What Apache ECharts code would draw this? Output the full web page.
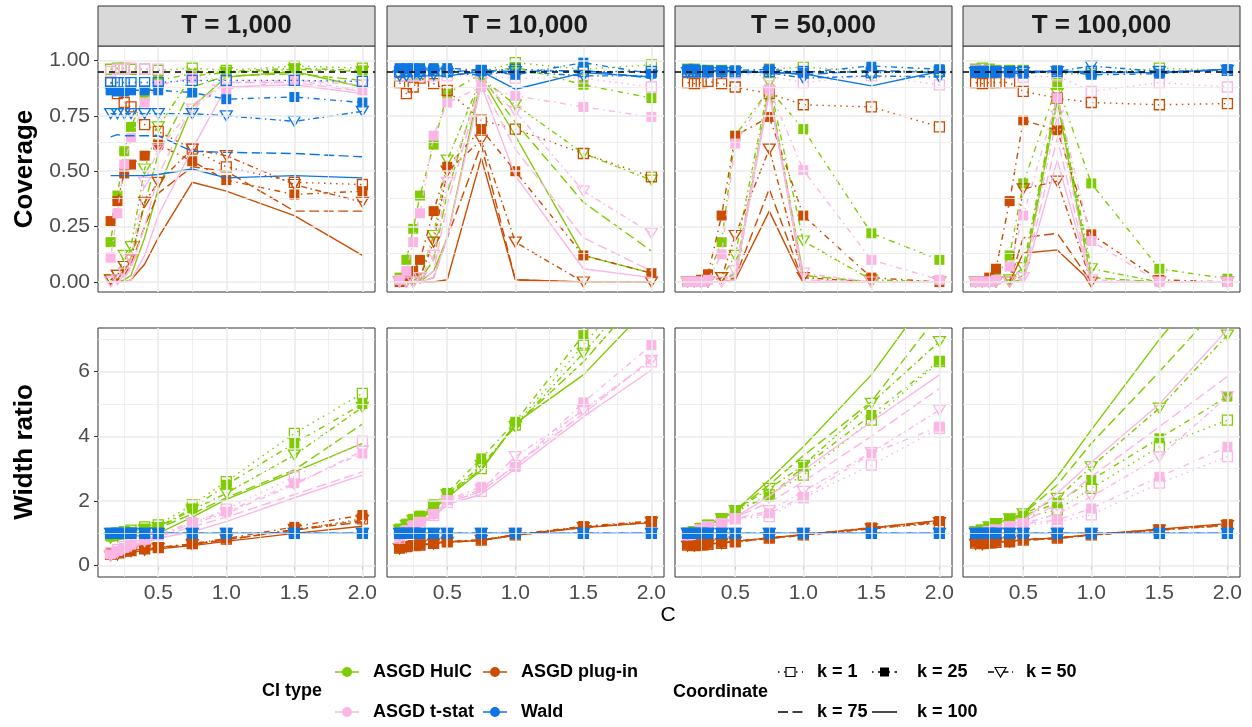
<!DOCTYPE html>
<html><head><meta charset="utf-8">
<script src="https://cdn.jsdelivr.net/npm/echarts@6/dist/echarts.min.js"></script>
<style>html,body{margin:0;padding:0;background:#fff}#c{width:1252px;height:727px}</style>
</head><body><div id="c"></div><script>
// ---------------- DATA ----------------
const C_values = [0.15, 0.2, 0.25, 0.3, 0.4, 0.5, 0.75, 1, 1.5, 2];
const T_labels = ['T = 1,000', 'T = 10,000', 'T = 50,000', 'T = 100,000'];
const ciTypes = ['ASGD HulC', 'ASGD plug-in', 'ASGD t-stat', 'Wald'];
const kLabels = ['k = 1', 'k = 25', 'k = 50', 'k = 75', 'k = 100'];
const covTicks = [0, 0.25, 0.5, 0.75, 1];
const widthTicks = [0, 2, 4, 6];
const xTicks = [0.5, 1, 1.5, 2];
const nominalLevel = 0.95;

// Coverage, rows = k=1, 25, 50, 75, 100 ; columns follow C_values
const cov_T1000_HulC = [
 [0.96,0.965,0.965,0.96,0.96,0.955,0.965,0.955,0.975,0.965],
 [0.18,0.39,0.59,0.70,0.84,0.91,0.94,0.95,0.965,0.955],
 [0.01,0.03,0.12,0.16,0.51,0.70,0.93,0.945,0.96,0.95],
 [0.00,0.01,0.05,0.11,0.35,0.58,0.88,0.93,0.94,0.91],
 [0.00,0.00,0.01,0.03,0.20,0.42,0.79,0.925,0.95,0.88]];
const cov_T1000_PlugIn = [
 [0.90,0.85,0.81,0.79,0.71,0.68,0.60,0.52,0.45,0.44],
 [0.275,0.365,0.49,0.53,0.57,0.62,0.545,0.46,0.395,0.41],
 [0.01,0.03,0.07,0.10,0.36,0.45,0.60,0.57,0.44,0.36],
 [0.00,0.01,0.03,0.08,0.25,0.40,0.52,0.50,0.32,0.32],
 [0.00,0.00,0.00,0.01,0.08,0.20,0.45,0.41,0.30,0.12]];
const cov_T1000_TStat = [
 [0.95,0.96,0.96,0.965,0.96,0.96,0.93,0.91,0.91,0.905],
 [0.11,0.31,0.53,0.65,0.81,0.89,0.92,0.87,0.91,0.865],
 [0.00,0.01,0.04,0.10,0.45,0.60,0.78,0.90,0.91,0.89],
 [0.00,0.00,0.02,0.06,0.25,0.48,0.80,0.90,0.90,0.86],
 [0.00,0.00,0.00,0.01,0.12,0.30,0.60,0.88,0.89,0.85]];
const cov_T1000_Wald = [
 [0.90,0.90,0.90,0.90,0.90,0.90,0.91,0.91,0.91,0.905],
 [0.865,0.86,0.86,0.865,0.865,0.865,0.855,0.825,0.835,0.81],
 [0.76,0.76,0.76,0.76,0.76,0.76,0.76,0.75,0.725,0.77],
 [0.655,0.665,0.66,0.66,0.66,0.66,0.59,0.585,0.58,0.565],
 [0.48,0.48,0.48,0.48,0.48,0.485,0.51,0.47,0.48,0.47]];

const cov_T10000_HulC = [
 [0.93,0.93,0.935,0.94,0.94,0.95,0.95,0.99,0.96,0.98],
 [0.02,0.10,0.24,0.39,0.62,0.85,0.94,0.97,0.89,0.83],
 [0.00,0.00,0.01,0.02,0.21,0.55,0.92,0.80,0.58,0.46],
 [0.00,0.00,0.00,0.01,0.10,0.40,0.93,0.72,0.36,0.14],
 [0.00,0.00,0.00,0.00,0.05,0.20,0.92,0.66,0.12,0.04]];
const cov_T10000_PlugIn = [
 [0.90,0.85,0.88,0.92,0.895,0.865,0.73,0.69,0.58,0.475],
 [0.00,0.02,0.05,0.10,0.32,0.52,0.69,0.50,0.12,0.04],
 [0.00,0.00,0.00,0.02,0.18,0.50,0.64,0.18,0.00,0.00],
 [0.00,0.00,0.00,0.00,0.02,0.20,0.62,0.01,0.00,0.00],
 [0.00,0.00,0.00,0.00,0.00,0.01,0.56,0.01,0.00,0.00]];
const cov_T10000_TStat = [
 [0.93,0.93,0.93,0.93,0.93,0.93,0.93,0.92,0.92,0.88],
 [0.01,0.05,0.18,0.31,0.66,0.81,0.88,0.84,0.79,0.745],
 [0.00,0.00,0.00,0.02,0.12,0.45,0.90,0.77,0.41,0.22],
 [0.00,0.00,0.00,0.00,0.05,0.35,0.90,0.60,0.20,0.05],
 [0.00,0.00,0.00,0.00,0.02,0.20,0.89,0.48,0.06,0.02]];
const cov_T10000_Wald = [
 [0.95,0.95,0.95,0.95,0.955,0.95,0.955,0.96,0.95,0.95],
 [0.965,0.965,0.965,0.965,0.965,0.965,0.955,0.935,0.99,0.94],
 [0.93,0.93,0.935,0.935,0.935,0.94,0.935,0.95,0.93,0.93],
 [0.94,0.94,0.94,0.94,0.94,0.95,0.955,0.95,0.955,0.92],
 [0.93,0.93,0.93,0.93,0.93,0.93,0.95,0.87,0.945,0.925]];

const cov_T50000_HulC = [
 [0.96,0.96,0.955,0.955,0.955,0.95,0.96,0.97,0.95,0.955],
 [0.00,0.00,0.01,0.03,0.18,0.66,0.87,0.69,0.22,0.10],
 [0.00,0.00,0.00,0.00,0.02,0.12,0.90,0.185,0.01,0.00],
 [0.00,0.00,0.00,0.00,0.00,0.04,0.88,0.03,0.00,0.00],
 [0.00,0.00,0.00,0.00,0.00,0.01,0.87,0.00,0.00,0.00]];
const cov_T50000_PlugIn = [
 [0.90,0.895,0.90,0.905,0.895,0.88,0.85,0.80,0.79,0.70],
 [0.00,0.00,0.01,0.035,0.30,0.66,0.745,0.30,0.02,0.00],
 [0.00,0.00,0.00,0.00,0.02,0.21,0.60,0.02,0.00,0.00],
 [0.00,0.00,0.00,0.00,0.00,0.02,0.42,0.00,0.00,0.00],
 [0.00,0.00,0.00,0.00,0.00,0.01,0.32,0.00,0.00,0.00]];
const cov_T50000_TStat = [
 [0.95,0.95,0.95,0.945,0.945,0.94,0.93,0.90,0.93,0.89],
 [0.00,0.00,0.00,0.01,0.125,0.625,0.87,0.505,0.10,0.01],
 [0.00,0.00,0.00,0.00,0.00,0.05,0.86,0.04,0.00,0.00],
 [0.00,0.00,0.00,0.00,0.00,0.03,0.86,0.01,0.00,0.00],
 [0.00,0.00,0.00,0.00,0.00,0.01,0.85,0.00,0.00,0.00]];
const cov_T50000_Wald = [
 [0.95,0.95,0.95,0.95,0.95,0.95,0.95,0.95,0.945,0.95],
 [0.96,0.96,0.955,0.955,0.955,0.955,0.96,0.945,0.975,0.96],
 [0.945,0.945,0.945,0.945,0.945,0.945,0.945,0.92,0.93,0.925],
 [0.95,0.95,0.95,0.95,0.95,0.95,0.95,0.935,0.955,0.945],
 [0.95,0.95,0.95,0.95,0.95,0.95,0.945,0.94,0.885,0.95]];

const cov_T100000_HulC = [
 [0.96,0.965,0.96,0.955,0.955,0.955,0.94,0.94,0.965,0.955],
 [0.00,0.00,0.00,0.02,0.12,0.445,0.89,0.445,0.06,0.015],
 [0.00,0.00,0.00,0.00,0.01,0.065,0.85,0.06,0.00,0.00],
 [0.00,0.00,0.00,0.00,0.00,0.03,0.85,0.02,0.00,0.00],
 [0.00,0.00,0.00,0.00,0.00,0.01,0.82,0.00,0.00,0.00]];
const cov_T100000_PlugIn = [
 [0.90,0.895,0.90,0.90,0.90,0.86,0.83,0.81,0.80,0.805],
 [0.00,0.00,0.02,0.06,0.365,0.73,0.685,0.215,0.01,0.00],
 [0.00,0.00,0.00,0.00,0.00,0.42,0.455,0.00,0.00,0.00],
 [0.00,0.00,0.00,0.00,0.00,0.20,0.22,0.00,0.00,0.00],
 [0.00,0.00,0.00,0.00,0.00,0.13,0.145,0.00,0.00,0.00]];
const cov_T100000_TStat = [
 [0.955,0.955,0.95,0.95,0.945,0.925,0.93,0.86,0.90,0.88],
 [0.00,0.00,0.00,0.01,0.07,0.30,0.83,0.185,0.00,0.00],
 [0.00,0.00,0.00,0.00,0.00,0.02,0.75,0.01,0.00,0.00],
 [0.00,0.00,0.00,0.00,0.00,0.01,0.65,0.00,0.00,0.00],
 [0.00,0.00,0.00,0.00,0.00,0.00,0.55,0.00,0.00,0.00]];
const cov_T100000_Wald = [
 [0.95,0.95,0.95,0.95,0.95,0.95,0.95,0.95,0.95,0.955],
 [0.945,0.945,0.945,0.945,0.945,0.94,0.955,0.935,0.94,0.96],
 [0.945,0.945,0.945,0.945,0.945,0.945,0.95,0.975,0.95,0.955],
 [0.95,0.95,0.95,0.95,0.95,0.95,0.95,0.95,0.945,0.96],
 [0.95,0.95,0.95,0.95,0.95,0.95,0.95,0.945,0.945,0.96]];

// Width ratio, rows = k=1, 25, 50, 75, 100
const wid_T1000_HulC = [
 [0.95,1.0,1.05,1.1,1.2,1.26,1.88,2.6,4.09,5.33],
 [0.9,0.95,1.0,1.05,1.15,1.2,1.77,2.5,3.78,5.0],
 [0.85,0.9,0.95,1.0,1.1,1.18,1.72,2.24,3.42,4.9],
 [0.8,0.85,0.9,0.95,1.05,1.15,1.6,2.1,2.96,4.38],
 [0.75,0.8,0.85,0.9,0.95,1.0,1.5,2.05,2.9,3.78]];
const wid_T1000_PlugIn = [
 [0.35,0.4,0.45,0.47,0.52,0.56,0.68,0.82,1.1,1.45],
 [0.4,0.42,0.45,0.48,0.52,0.56,0.68,0.84,1.2,1.57],
 [0.3,0.33,0.38,0.43,0.48,0.54,0.65,0.8,1.12,1.4],
 [0.33,0.36,0.4,0.45,0.5,0.55,0.66,0.8,1.1,1.35],
 [0.3,0.33,0.37,0.42,0.47,0.52,0.62,0.75,1.0,1.22]];
const wid_T1000_TStat = [
 [0.4,0.5,0.6,0.7,0.85,0.95,1.3,1.75,2.75,3.85],
 [0.35,0.45,0.55,0.65,0.8,0.95,1.36,1.67,2.55,3.47],
 [0.3,0.4,0.5,0.6,0.75,0.9,1.3,1.62,2.5,3.55],
 [0.3,0.4,0.5,0.6,0.75,0.9,1.2,1.5,2.2,2.9],
 [0.25,0.35,0.45,0.55,0.7,0.85,1.05,1.36,2.1,2.8]];
const wid_T1000_Wald = [
 [1,1,1,1,1,1,1,1,1,1],[1,1,1,1,1,1,1,1,1,1],[1,1,1,1,1,1,1,1,1,1],
 [1,1,1,1,1,1,1,1,1,1],[1,1,1,1,1,1,1,1,1,1]];

const wid_T10000_HulC = [
 [1.1,1.25,1.4,1.5,1.85,2.2,3.0,4.35,6.82,9.3],
 [1.15,1.3,1.45,1.55,1.9,2.25,3.32,4.45,7.13,9.6],
 [1.1,1.25,1.4,1.5,1.85,2.2,3.1,4.3,6.57,9.0],
 [1.05,1.2,1.35,1.45,1.8,2.15,3.0,4.35,6.3,8.7],
 [1.0,1.15,1.3,1.4,1.75,2.1,2.95,4.4,5.9,8.1]];
const wid_T10000_PlugIn = [
 [0.54,0.59,0.62,0.64,0.69,0.74,0.79,0.95,1.2,1.36],
 [0.55,0.6,0.62,0.65,0.7,0.75,0.8,0.96,1.22,1.38],
 [0.52,0.57,0.6,0.63,0.67,0.72,0.78,0.94,1.18,1.34],
 [0.53,0.58,0.61,0.64,0.68,0.73,0.79,0.95,1.19,1.35],
 [0.52,0.57,0.6,0.63,0.68,0.73,0.78,0.94,1.18,1.33]];
const wid_T10000_TStat = [
 [0.85,1.05,1.2,1.3,1.55,1.95,2.3,3.1,4.85,6.3],
 [0.9,1.1,1.25,1.36,1.6,2.03,2.44,3.05,5.05,6.82],
 [0.85,1.05,1.2,1.33,1.57,2.0,2.35,3.37,4.8,6.35],
 [0.8,1.0,1.15,1.3,1.55,1.95,2.3,3.1,4.7,6.4],
 [0.8,1.0,1.15,1.3,1.5,1.9,2.2,3.0,4.6,6.05]];
const wid_T10000_Wald = wid_T1000_Wald;

const wid_T50000_HulC = [
 [1.0,1.05,1.15,1.25,1.45,1.65,2.19,2.8,4.5,6.31],
 [1.0,1.05,1.15,1.25,1.45,1.72,2.13,3.06,4.66,6.34],
 [1.0,1.05,1.15,1.25,1.45,1.7,2.39,3.1,5.02,6.93],
 [1.0,1.05,1.15,1.25,1.45,1.7,2.5,3.4,5.07,7.8],
 [1.0,1.05,1.15,1.25,1.45,1.7,2.65,3.68,5.9,8.8]];
const wid_T50000_PlugIn = [
 [0.64,0.62,0.64,0.66,0.69,0.74,0.85,0.95,1.15,1.31],
 [0.66,0.64,0.66,0.68,0.71,0.76,0.86,0.96,1.18,1.38],
 [0.6,0.6,0.62,0.64,0.68,0.73,0.84,0.94,1.14,1.33],
 [0.62,0.61,0.63,0.65,0.69,0.74,0.85,0.95,1.16,1.36],
 [0.63,0.62,0.64,0.66,0.7,0.75,0.86,0.96,1.17,1.4]];
const wid_T50000_TStat = [
 [0.95,1.0,1.1,1.2,1.3,1.45,1.52,2.1,3.11,4.25],
 [0.95,1.0,1.1,1.2,1.3,1.45,1.62,2.13,3.47,4.3],
 [0.95,1.0,1.1,1.2,1.3,1.45,1.7,2.3,3.5,4.81],
 [0.95,1.0,1.1,1.2,1.3,1.5,1.95,2.6,4.0,5.48],
 [0.95,1.0,1.1,1.2,1.3,1.5,2.15,2.95,4.45,5.9]];
const wid_T50000_Wald = wid_T1000_Wald;

const wid_T100000_HulC = [
 [1.05,1.1,1.15,1.25,1.4,1.5,1.72,2.39,3.68,4.5],
 [1.05,1.1,1.2,1.3,1.45,1.55,1.93,2.65,3.94,5.23],
 [1.05,1.1,1.2,1.3,1.45,1.6,2.08,3.06,4.87,7.13],
 [1.05,1.1,1.2,1.3,1.45,1.6,2.5,3.78,6.0,8.3],
 [1.05,1.1,1.2,1.3,1.45,1.6,2.75,4.2,7.0,9.5]];
const wid_T100000_PlugIn = [
 [0.7,0.68,0.7,0.72,0.74,0.79,0.85,0.95,1.1,1.25],
 [0.72,0.7,0.72,0.74,0.76,0.8,0.86,0.96,1.12,1.28],
 [0.66,0.65,0.68,0.7,0.73,0.78,0.84,0.94,1.1,1.24],
 [0.68,0.67,0.69,0.71,0.74,0.79,0.85,0.95,1.11,1.26],
 [0.69,0.68,0.7,0.72,0.75,0.8,0.86,0.96,1.13,1.3]];
const wid_T100000_TStat = [
 [1.0,1.0,1.05,1.1,1.2,1.25,1.35,1.57,2.55,3.37],
 [1.0,1.0,1.05,1.1,1.2,1.3,1.41,1.77,2.75,3.68],
 [1.0,1.0,1.05,1.1,1.2,1.3,1.6,2.13,3.37,5.23],
 [1.0,1.0,1.05,1.1,1.2,1.35,1.9,2.75,4.3,5.85],
 [1.0,1.0,1.05,1.1,1.25,1.4,2.24,3.2,5.0,7.3]];
const wid_T100000_Wald = wid_T1000_Wald;

// -------------- BUILD --------------
const covSets = [
 [cov_T1000_HulC, cov_T1000_PlugIn, cov_T1000_TStat, cov_T1000_Wald],
 [cov_T10000_HulC, cov_T10000_PlugIn, cov_T10000_TStat, cov_T10000_Wald],
 [cov_T50000_HulC, cov_T50000_PlugIn, cov_T50000_TStat, cov_T50000_Wald],
 [cov_T100000_HulC, cov_T100000_PlugIn, cov_T100000_TStat, cov_T100000_Wald]];
const widSets = [
 [wid_T1000_HulC, wid_T1000_PlugIn, wid_T1000_TStat, wid_T1000_Wald],
 [wid_T10000_HulC, wid_T10000_PlugIn, wid_T10000_TStat, wid_T10000_Wald],
 [wid_T50000_HulC, wid_T50000_PlugIn, wid_T50000_TStat, wid_T50000_Wald],
 [wid_T100000_HulC, wid_T100000_PlugIn, wid_T100000_TStat, wid_T100000_Wald]];

const typeColors = ['#7FCC00', '#CC4C02', '#FBB6E6', '#0E76E3'];
const FONT = '"Liberation Sans", Arial, sans-serif';
const kStyles = [
  {symbol: 'rect', size: 10, rotate: 0, hollow: true, dash: [1.5, 4.5]},
  {symbol: 'rect', size: 10, rotate: 0, hollow: false, dash: [1.5, 4.5, 6, 4.5]},
  {symbol: 'triangle', size: [12, 10], rotate: 180, hollow: true, dash: [6, 3.5, 1.5, 3.5]},
  {symbol: 'none', size: 0, rotate: 0, hollow: false, dash: [10, 4.5]},
  {symbol: 'none', size: 0, rotate: 0, hollow: false, dash: 'solid'}];

const colLeft = [98, 387, 675, 963], panelW = 277;
const rowTop = [46, 328], rowH = [246, 249];
const xMin = 0.0575, xMax = 2.0925;
const yRange = [[-0.045, 1.065], [-0.35, 7.35]];
const yTicks = [covTicks, widthTicks];
const yMinor = [[0.125, 0.375, 0.625, 0.875], [1, 3, 5, 7]];
const xMinor = [0.25, 0.75, 1.25, 1.75];

const grids = [], xAxes = [], yAxes = [], series = [];
for (let r = 0; r < 2; r++) {
  for (let c = 0; c < 4; c++) {
    const i = r * 4 + c;
    grids.push({left: colLeft[c], top: rowTop[r], width: panelW, height: rowH[r],
      show: true, borderColor: '#333333', borderWidth: 1, backgroundColor: '#ffffff', containLabel: false});
    xAxes.push({type: 'value', gridIndex: i, min: xMin, max: xMax,
      axisLine: {show: false}, splitLine: {show: false},
      axisTick: {show: r === 1, customValues: xTicks, length: 4, lineStyle: {color: '#333333', width: 1}},
      axisLabel: {show: r === 1, customValues: xTicks, formatter: v => v.toFixed(1),
        fontSize: 21, color: '#4D4D4D', fontFamily: FONT, margin: 6}});
    yAxes.push({type: 'value', gridIndex: i, min: yRange[r][0], max: yRange[r][1],
      axisLine: {show: false}, splitLine: {show: false},
      axisTick: {show: c === 0, customValues: yTicks[r], length: 4, lineStyle: {color: '#333333', width: 1}},
      axisLabel: {show: c === 0, customValues: yTicks[r],
        formatter: v => (r === 0 ? v.toFixed(2) : String(v)),
        fontSize: 21, color: '#4D4D4D', fontFamily: FONT, margin: 8}});
    // grid lines through the axes' own scales
    const gl = [];
    xMinor.forEach(v => gl.push({xAxis: v, lineStyle: {color: '#EBEBEB', width: 0.8, type: 'solid'}}));
    yMinor[r].forEach(v => gl.push({yAxis: v, lineStyle: {color: '#EBEBEB', width: 0.8, type: 'solid'}}));
    xTicks.forEach(v => gl.push({xAxis: v, lineStyle: {color: '#EBEBEB', width: 1.6, type: 'solid'}}));
    yTicks[r].forEach(v => gl.push({yAxis: v, lineStyle: {color: '#EBEBEB', width: 1.6, type: 'solid'}}));
    series.push({type: 'line', xAxisIndex: i, yAxisIndex: i, data: [], z: 1, silent: true,
      markLine: {silent: true, symbol: ['none', 'none'], label: {show: false}, animation: false, data: gl}});
    if (r === 0) {
      series.push({type: 'line', xAxisIndex: i, yAxisIndex: i, data: [], z: 1.5, silent: true,
        markLine: {silent: true, symbol: ['none', 'none'], label: {show: false}, animation: false,
          data: [{yAxis: nominalLevel, lineStyle: {color: '#000000', width: 1.5, type: [6, 5]}}]}});
    }
    const sets = r === 0 ? covSets[c] : widSets[c];
    for (let t = 0; t < 4; t++) {
      for (let k = 0; k < 5; k++) {
        const ks = kStyles[k], col = typeColors[t];
        series.push({
          type: 'line', xAxisIndex: i, yAxisIndex: i, z: 2 + t * 0.1,
          name: ciTypes[t] + ' ' + kLabels[k],
          data: C_values.map((x, j) => [x, sets[t][k][j]]),
          symbol: ks.symbol, symbolSize: ks.size, symbolRotate: ks.rotate, showSymbol: ks.symbol !== 'none',
          lineStyle: {color: col, width: 1.4, type: ks.dash},
          itemStyle: ks.hollow ? {color: 'rgba(255,255,255,0)', borderColor: col, borderWidth: 1.3}
                               : {color: col, borderWidth: 0},
          clip: true, silent: true, animation: false
        });
      }
    }
  }
}

// -------------- GRAPHICS (strips, titles, legend) --------------
const g = [];
for (let c = 0; c < 4; c++) {
  g.push({type: 'rect', shape: {x: colLeft[c], y: 6, width: panelW, height: 40},
    style: {fill: '#D9D9D9', stroke: '#333333', lineWidth: 1}, z: 10});
  g.push({type: 'text', x: colLeft[c] + panelW / 2, y: 26, z: 11,
    style: {text: T_labels[c], fontSize: 26, fontWeight: 'bold', fontFamily: FONT, fill: '#1A1A1A',
      align: 'center', verticalAlign: 'middle'}});
}
g.push({type: 'text', x: 25, y: 169, rotation: Math.PI / 2, z: 11,
  style: {text: 'Coverage', fontSize: 26, fontWeight: 'bold', fontFamily: FONT, fill: '#000',
    align: 'center', verticalAlign: 'middle'}});
g.push({type: 'text', x: 25, y: 452, rotation: Math.PI / 2, z: 11,
  style: {text: 'Width ratio', fontSize: 26, fontWeight: 'bold', fontFamily: FONT, fill: '#000',
    align: 'center', verticalAlign: 'middle'}});
g.push({type: 'text', x: 668, y: 615, z: 11,
  style: {text: 'C', fontSize: 21, fontFamily: FONT, fill: '#000', align: 'center', verticalAlign: 'middle'}});

// legend: CI type
const legFont = {fontSize: 18, fontWeight: 'bold', fontFamily: FONT, fill: '#000', verticalAlign: 'middle'};
g.push({type: 'text', x: 262, y: 691, style: Object.assign({text: 'CI type', align: 'left'}, legFont)});
const ciPos = [[335, 672], [483, 672], [335, 712], [483, 712]];
[0, 1, 2, 3].forEach((t, n) => {
  const [x, y] = ciPos[n];
  g.push({type: 'line', shape: {x1: x, y1: y, x2: x + 24, y2: y}, style: {stroke: typeColors[t], lineWidth: 1.5}});
  g.push({type: 'circle', shape: {cx: x + 12, cy: y, r: 5}, style: {fill: typeColors[t]}});
  g.push({type: 'text', x: x + 38, y: y, style: Object.assign({text: ciTypes[t], align: 'left'}, legFont)});
});
// legend: Coordinate
g.push({type: 'text', x: 673, y: 692, style: Object.assign({text: 'Coordinate', align: 'left'}, legFont)});
const kPos = [[778, 672, 817], [872, 672, 917], [988, 672, 1026], [778, 712, 817], [872, 712, 917]];
kPos.forEach((p, k) => {
  const [x, y, lx] = p, ks = kStyles[k];
  g.push({type: 'line', shape: {x1: x, y1: y, x2: x + 25, y2: y},
    style: {stroke: '#000', lineWidth: 1.4, lineDash: ks.dash === 'solid' ? null : ks.dash}});
  const cx = x + 12.5;
  if (ks.symbol === 'rect') {
    g.push({type: 'rect', shape: {x: cx - 4.5, y: y - 4.5, width: 9, height: 9},
      style: ks.hollow ? {fill: '#fff', stroke: '#000', lineWidth: 1.2} : {fill: '#000'}});
  } else if (ks.symbol === 'triangle') {
    g.push({type: 'polygon', shape: {points: [[cx - 5.5, y - 4.5], [cx + 5.5, y - 4.5], [cx, y + 5]]},
      style: {fill: '#fff', stroke: '#000', lineWidth: 1.2}});
  }
  g.push({type: 'text', x: lx, y: y, style: Object.assign({text: kLabels[k], align: 'left'}, legFont)});
});

const chart = echarts.init(document.getElementById('c'), null, {renderer: 'canvas'});
chart.setOption({
  animation: false,
  backgroundColor: '#ffffff',
  grid: grids, xAxis: xAxes, yAxis: yAxes, series: series, graphic: g
});
</script></body></html>
